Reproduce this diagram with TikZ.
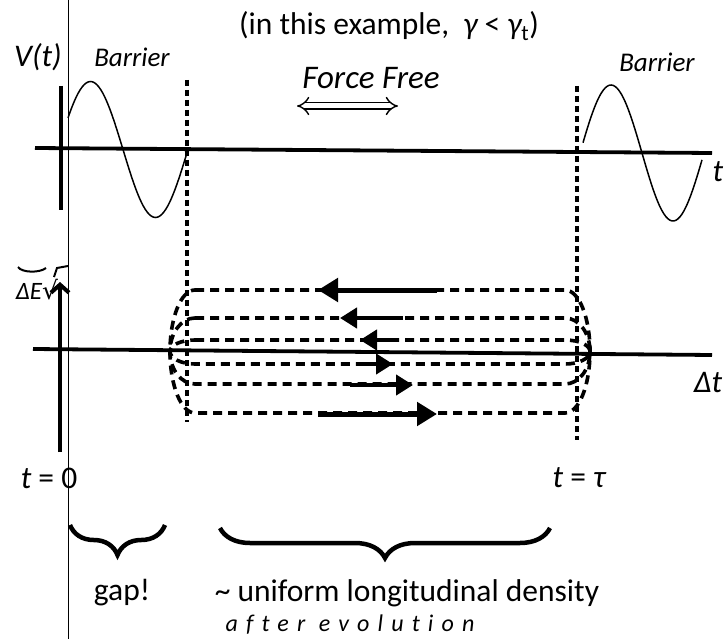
\documentclass[tikz,border=0pt]{standalone}
\usepackage{fontspec}
\setmainfont{Carlito}
\newfontfamily\symfont{DejaVu Sans}
\usetikzlibrary{arrows.meta,decorations.pathreplacing}
\tikzset{
 axisline/.style={line width=3.8pt},
 thinline/.style={line width=1pt},
 wave/.style={line width=1.5pt},
 vdash/.style={line width=3.4pt, dash pattern=on 6pt off 4pt},
 loopline/.style={line width=3.6pt, dash pattern=on 9pt off 6pt},
 flow/.style={line width=5pt, -{Triangle[length=20pt,width=23pt]}},
 flowsmall/.style={line width=4.5pt, -{Triangle[length=17pt,width=20pt]}},
 lbl/.style={font=\fontsize{31.5}{34}\selectfont, inner sep=0pt},
 hand/.style={font=\fontsize{27}{30}\selectfont\itshape, inner sep=0pt},
 bracestyle/.style={line width=4.5pt, decorate, decoration={brace, mirror, amplitude=30pt}},
}
\begin{document}
\begin{tikzpicture}[x=1pt,y=-1pt]
\useasboundingbox (0,0) rectangle (725,639);
% thin vertical line
\draw[thinline] (68,0) -- (68,639);
% upper plot
\draw[axisline] (35,148) -- (712,153);
\draw[axisline] (61,86) -- (61,210);
\draw[wave,domain=68:188,samples=60,smooth] plot (\x,{149.5-68*sin((\x-58)*2.7692)});
\draw[wave,domain=583:702,samples=60,smooth] plot (\x,{153-68*sin((\x-580)*2.9032)});
\draw[vdash] (187,80) -- (187,422);
\draw[vdash] (577,86) -- (577,440);
% texts upper
\node[lbl] (title) at (389,26) {(in this example,\ \ {\itshape γ} < {\itshape γ}\textsubscript{t})};
\node[lbl] (vt) at (38,57) {\itshape V(t)};
\node[hand] (bar1) at (132,57) {Barrier};
\node[hand] (bar2) at (657,62) {Barrier};
\node[hand, font=\fontsize{33}{35}\selectfont\itshape] (ff) at (371,78) {Force Free};
\coordinate (ffl) at (297,106);
\coordinate (ffr) at (398,106);
\draw[line width=1.4pt, double distance=5pt, {Implies}-{Implies}] (ffl) -- (ffr);
\node[lbl] (tlab) at (718,172) {\itshape t};
% lower plot
\draw[axisline] (33,349) -- (712,355);
\draw[line width=4pt, -{Straight Barb[length=8pt,width=18pt]}] (60,452) -- (60,282);
\node[inner sep=0pt, font=\fontsize{25}{27}\selectfont\itshape] (de) at (37,290) {ΔE{\symfont\upshape √}};
\draw[line width=2pt] (18,267) .. controls (22,273) and (40,273) .. (46,268);
\draw[line width=2pt] (54,277) -- (57,268) -- (68,266);
\node[lbl] (dtlab) at (708,383) {\itshape Δt};
% loops
\foreach \t/\b in {290/413, 318/384, 340/364}{
  \pgfmathsetmacro{\m}{351.5}
  \pgfmathsetmacro{\ct}{\m-0.55*(\m-\t)}
  \pgfmathsetmacro{\cb}{\m+0.55*(\b-\m)}
  \draw[loopline] (195,\t) -- (565,\t) .. controls (579,\t) and (590,\ct) .. (590,\m)
    .. controls (590,\cb) and (579,\b) .. (565,\b) -- (195,\b)
    .. controls (181,\b) and (170,\cb) .. (170,\m)
    .. controls (170,\ct) and (181,\t) .. (195,\t) -- cycle;
}
% flow arrows
\draw[flow] (437,290) -- (318,290);
\draw[flowsmall] (403,318) -- (340,318);
\draw[flowsmall] (392,340) -- (360,340);
\draw[flowsmall] (360,364) -- (393,364);
\draw[flowsmall] (350,385) -- (413,385);
\draw[flow] (318,414) -- (437,414);
% bottom labels
\node[lbl] (t0) at (49,478) {{\itshape t} = 0};
\node[lbl] (ttau) at (579,478) {{\itshape t} = {\itshape τ}};
\coordinate (b1l) at (70,525);
\coordinate (b1r) at (165,525);
\coordinate (b2l) at (220,528);
\coordinate (b2r) at (550,528);
\draw[bracestyle] (b1l) -- (b1r);
\draw[bracestyle] (b2l) -- (b2r);
\node[lbl] (gap) at (122,593) {gap!};
\node[lbl] (unif) at (407,593) {\textasciitilde\ uniform longitudinal density};
\node[hand, font=\fontsize{24}{26}\selectfont\itshape\addfontfeatures{LetterSpace=34,Ligatures=NoCommon}] (after) at (350,625) {after evolution};
\end{tikzpicture}
\end{document}
